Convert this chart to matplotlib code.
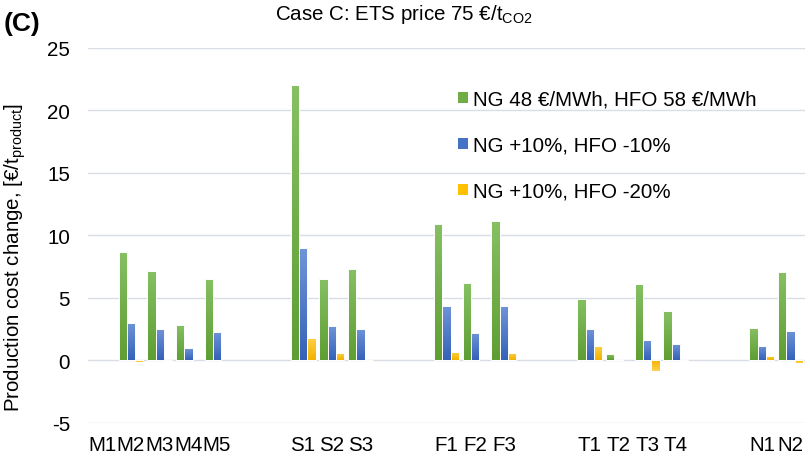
import numpy as np
import matplotlib
matplotlib.use("Agg")
import matplotlib.pyplot as plt
from matplotlib.colors import LinearSegmentedColormap
from matplotlib.patches import Patch

plt.rcParams['font.family'] = ['Liberation Sans', 'DejaVu Sans']
plt.rcParams['mathtext.default'] = 'regular'
plt.rcParams['axes.unicode_minus'] = False

# category slots; empty strings are spacer columns between process groups
labels = ["M1", "M2", "M3", "M4", "M5", "", "",
          "S1", "S2", "S3", "", "",
          "F1", "F2", "F3", "", "",
          "T1", "T2", "T3", "T4", "", "",
          "N1", "N2"]

base = [0, 8.67, 7.19, 2.86, 6.52, None, None,
        22.0, 6.55, 7.33, None, None,
        10.94, 6.18, 11.15, None, None,
        4.92, 0.48, 6.10, 3.93, None, None,
        2.59, 7.06]
ng_hfo10 = [0, 2.97, 2.49, 0.96, 2.30, None, None,
            8.96, 2.73, 2.54, None, None,
            4.33, 2.19, 4.33, None, None,
            2.49, 0.13, 1.60, 1.33, None, None,
            1.17, 2.38]
ng_hfo20 = [0, -0.10, -0.05, 0, 0, None, None,
            1.79, 0.61, -0.05, None, None,
            0.69, 0, 0.59, None, None,
            1.15, 0, -0.88, -0.03, None, None,
            0.35, -0.19]

series_names = ["NG 48 €/MWh, HFO 58 €/MWh", "NG +10%, HFO -10%", "NG +10%, HFO -20%"]
colors = ["#70AD47", "#4472C4", "#FFC000"]
grad_colors = [("#5E9E33", "#86C063"), ("#3562B8", "#7094D8"), ("#F2B200", "#FFD24A")]

fs = 14.8

fig = plt.figure(figsize=(8.1, 4.6), dpi=100)
ax = fig.add_axes([0.1086, 0.0783, 0.8852, 0.8152])

x = np.arange(len(labels))
w = 0.29
grad = np.linspace(0, 1, 64).reshape(-1, 1)

for k, vals in enumerate([base, ng_hfo10, ng_hfo20]):
    cmap = LinearSegmentedColormap.from_list("g%d" % k, grad_colors[k])
    for xi, v in zip(x, vals):
        if v is None or v == 0:
            continue
        xc = xi + (k - 1) * w
        bar = ax.bar(xc, v, w, color="none", edgecolor="white", linewidth=0.7, zorder=3)[0]
        im = ax.imshow(grad, extent=(xc - w / 2, xc + w / 2, 0, v), origin="lower",
                       cmap=cmap, aspect="auto", zorder=2, interpolation="bilinear")
        im.set_clip_path(bar)

ax.set_xlim(-0.5, len(labels) - 0.5)
ax.set_ylim(-5, 25)
ax.set_yticks(np.arange(-5, 26, 5))
ax.set_xticks(x)
ax.set_xticklabels(labels, fontsize=fs)
ax.tick_params(axis="y", labelsize=fs, length=0, pad=13)
ax.tick_params(axis="x", length=0, pad=9)
ax.grid(axis="y", color="#D9DEE6", linewidth=1.0, zorder=0)
ax.set_axisbelow(True)
for s in ax.spines.values():
    s.set_visible(False)

handles = [Patch(facecolor=c, edgecolor="none") for c in colors]
fig.legend(handles, series_names, loc="upper left", bbox_to_anchor=(0.566, 0.803),
           bbox_transform=fig.transFigure, frameon=False, fontsize=fs,
           handlelength=0.45, handleheight=0.45, handletextpad=0.25,
           labelspacing=1.32, borderpad=0, borderaxespad=0)

fig.text(275 / 810, 1 - 15 / 460, "Case C: ETS price 75 €/t$_{CO2}$", ha="left", va="center", fontsize=fs)
fig.text(4 / 810, 1 - 31 / 460, "(C)", ha="left", va="baseline", fontsize=19, fontweight="bold")
fig.text(15 / 810, 1 - 258 / 460, "Production cost change, [€/t$_{product}$]", rotation=90,
         ha="center", va="center", fontsize=fs)

fig.savefig("out.png", dpi=100)
